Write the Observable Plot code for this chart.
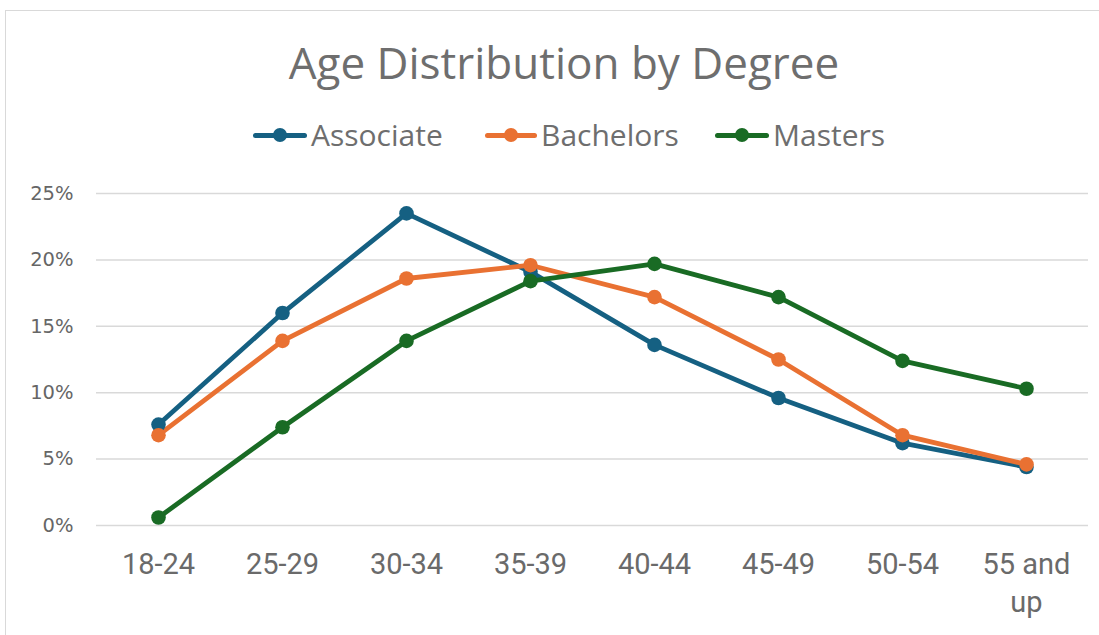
<!DOCTYPE html>
<html>
<head>
<meta charset="utf-8">
<script src="https://cdn.jsdelivr.net/npm/d3@7"></script>
<script src="https://cdn.jsdelivr.net/npm/@observablehq/plot@0.6"></script>
<style>
  html, body { margin: 0; padding: 0; background: #fff; width: 1099px; height: 635px; overflow: hidden; }
  #frame { position: absolute; left: 5px; top: 10px; width: 1200px; height: 700px; border: 1.5px solid #d9d9d9; box-sizing: border-box; }
  #title { position: absolute; left: 0; top: 34px; width: 1128px; text-align: center; font-family: "Open Sans", sans-serif; font-size: 44px; color: #6e6e6e; line-height: 56px; }
  #legend { position: absolute; top: 117px; left: 0; width: 1099px; height: 36px; font-family: "Open Sans", sans-serif; font-size: 30px; color: #6e6e6e; }
  .item { position: absolute; top: 0; height: 36px; line-height: 36px; }
  .sw { position: absolute; top: 18px; height: 5px; margin-top: -2.5px; border-radius: 3px; }
  .dot { position: absolute; top: 18px; width: 14px; height: 14px; margin-top: -7px; margin-left: -7px; border-radius: 50%; }
  #chart { position: absolute; left: 0; top: 170px; }
</style>
</head>
<body>
<div id="frame"></div>
<div id="title">Age Distribution by Degree</div>
<div id="legend"></div>
<div id="chart"></div>
<script>
const categories = ["18-24", "25-29", "30-34", "35-39", "40-44", "45-49", "50-54", "55 and up"];
const seriesNames = ["Associate", "Bachelors", "Masters"];
const associate = [7.6, 16.0, 23.5, 19.1, 13.6, 9.6, 6.2, 4.4];
const bachelors = [6.8, 13.9, 18.6, 19.6, 17.2, 12.5, 6.8, 4.6];
const masters   = [0.6, 7.4, 13.9, 18.4, 19.7, 17.2, 12.4, 10.3];
const yTicks = [0, 5, 10, 15, 20, 25];
const colors = ["#156082", "#E97132", "#196B24"];

const seriesValues = [associate, bachelors, masters];
const data = [];
seriesNames.forEach((s, i) => categories.forEach((c, j) => data.push({series: s, cat: c, value: seriesValues[i][j]})));

// legend
const legendPos = [[253, 311], [485, 541], [715, 773]];
const legend = document.getElementById("legend");
seriesNames.forEach((s, i) => {
  const [x0, tx] = legendPos[i];
  const sw = document.createElement("div");
  sw.className = "sw"; sw.style.left = x0 + "px"; sw.style.width = (tx - x0 - 4) + "px"; sw.style.background = colors[i];
  const dot = document.createElement("div");
  dot.className = "dot"; dot.style.left = (x0 + (tx - x0 - 4) / 2) + "px"; dot.style.background = colors[i];
  const t = document.createElement("div");
  t.className = "item"; t.style.left = tx + "px"; t.textContent = s;
  legend.append(sw, dot, t);
});

const chart = Plot.plot({
  width: 1099,
  height: 465,
  marginTop: 23,
  marginBottom: 110,
  marginLeft: 96,
  marginRight: 11,
  style: {fontFamily: "Open Sans, sans-serif", background: "transparent"},
  x: {type: "point", domain: categories, padding: 0.5, axis: null},
  y: {domain: [0, 25], axis: null},
  color: {domain: seriesNames, range: colors},
  marks: [
    Plot.gridY(yTicks, {stroke: "#d9d9d9", strokeOpacity: 1, strokeWidth: 1.5}),
    Plot.text(yTicks, {y: d => d, frameAnchor: "left", dx: -23, textAnchor: "end", fontSize: 19.5, fill: "#666666", fontFamily: "DejaVu Sans, sans-serif", text: d => d + "%"}),
    Plot.text(categories, {x: d => d, frameAnchor: "bottom", dy: 22, lineAnchor: "top", lineHeight: 1.3, fontSize: 29, fill: "#6a6a6a", fontFamily: "Roboto, sans-serif", text: d => d === "55 and up" ? "55 and\nup" : d}),
    Plot.line(data, {x: "cat", y: "value", z: "series", stroke: "series", strokeWidth: 4.8, strokeLinejoin: "round", strokeLinecap: "round"}),
    Plot.dot(data, {x: "cat", y: "value", fill: "series", r: 7.3, stroke: "none"})
  ]
});
document.getElementById("chart").append(chart);
</script>
</body>
</html>
